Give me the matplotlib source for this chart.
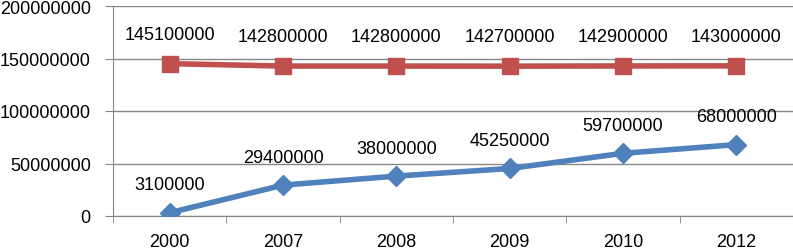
import matplotlib.pyplot as plt
import numpy as np

years = ['2000', '2007', '2008', '2009', '2010', '2012']
blue_vals = [3100000, 29400000, 38000000, 45250000, 59700000, 68000000]
red_vals = [145100000, 142800000, 142800000, 142700000, 142900000, 143000000]

plt.rcParams['font.family'] = ['Liberation Sans', 'DejaVu Sans']

fig = plt.figure(figsize=(7.93, 2.51), dpi=100)
ax = fig.add_axes([113 / 793, 1 - 217 / 251, 680 / 793, 210 / 251])

x = np.arange(len(years))
grid_col = '#868686'

ax.plot(x, blue_vals, color='#4F81BD', lw=4, marker='D', ms=10, zorder=3)
ax.plot(x, red_vals, color='#C0504D', lw=4, marker='s', ms=11, zorder=3)

for xi, v in zip(x, blue_vals):
    ax.annotate(str(v), (xi, v), xytext=(0, 20), textcoords='offset points',
                ha='center', va='center', fontsize=13)
for xi, v in zip(x, red_vals):
    ax.annotate(str(v), (xi, v), xytext=(0, 21), textcoords='offset points',
                ha='center', va='center', fontsize=13)

ax.set_xlim(-0.5, len(years) - 0.5)
ax.set_ylim(0, 200000000)
ax.set_yticks(np.arange(0, 200000001, 50000000))
ax.set_yticklabels([str(t) for t in range(0, 200000001, 50000000)], fontsize=13)
ax.yaxis.grid(True, color=grid_col, lw=1)
ax.set_axisbelow(True)

ax.set_xticks(x)
ax.set_xticklabels(years, fontsize=13)
ax.set_xticks(np.arange(-0.5, len(years)), minor=True)
ax.tick_params(axis='x', which='major', length=0, pad=12)
ax.tick_params(axis='x', which='minor', length=5, color=grid_col, direction='out')
ax.tick_params(axis='y', length=6, color=grid_col, pad=10)

for s in ['top', 'right']:
    ax.spines[s].set_visible(False)
for s in ['left', 'bottom']:
    ax.spines[s].set_color(grid_col)

fig.savefig('out.png', dpi=100)
